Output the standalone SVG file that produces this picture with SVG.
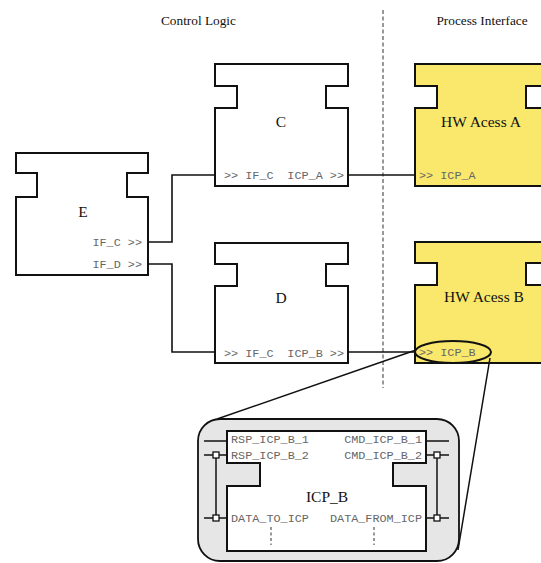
<svg xmlns="http://www.w3.org/2000/svg" width="541" height="563" viewBox="0 0 541 563">
<style>
.blk{fill:#fff;stroke:#111;stroke-width:2}
.hw{fill:#f9e86c;stroke:#111;stroke-width:2}
.ser{font-family:"Liberation Serif","Times New Roman",serif;fill:#111}
.title{font-size:13.3px;text-anchor:middle}
.name{font-size:15.5px;text-anchor:middle}
.mono{font-family:"Liberation Mono","Courier New",monospace;font-size:11.8px;fill:#666}
.end{text-anchor:end}
.con{fill:none;stroke:#111;stroke-width:1.6}
.sq{fill:#fff;stroke:#111;stroke-width:1.3}
</style>
<rect width="541" height="563" fill="#fff"/>
<g id="titles">
<text class="ser title" x="198.5" y="25">Control Logic</text>
<text class="ser title" x="482" y="25">Process Interface</text>
<line x1="383" y1="10" x2="383" y2="388" stroke="#333" stroke-width="1" stroke-dasharray="4,2.5"/>
</g>
<g id="connectors">
<polyline class="con" points="148,242 172,242 172,175 215,175"/>
<polyline class="con" points="148,264 172,264 172,352 215,352"/>
<line class="con" x1="348" y1="175" x2="415" y2="175"/>
<line class="con" x1="348" y1="352" x2="415" y2="352"/>
</g>
<g id="E">
<path class="blk" d="M16,153 H148 V173 H127 V197 H148 V275 H16 V197 H37 V173 H16 Z"/>
<text class="ser name" x="83" y="217">E</text>
<text class="mono end" x="142" y="246">IF_C &gt;&gt;</text>
<text class="mono end" x="142" y="268">IF_D &gt;&gt;</text>
</g>
<g id="C">
<path class="blk" d="M215,64 H348 V86 H326 V108 H348 V186 H215 V108 H237 V86 H215 Z"/>
<text class="ser name" x="281" y="127">C</text>
<text class="mono" x="224" y="179">&gt;&gt; IF_C</text>
<text class="mono end" x="344" y="179">ICP_A &gt;&gt;</text>
</g>
<g id="D">
<path class="blk" d="M215,243 H348 V264 H326 V286 H348 V363 H215 V286 H237 V264 H215 Z"/>
<text class="ser name" x="281" y="303">D</text>
<text class="mono" x="224" y="357">&gt;&gt; IF_C</text>
<text class="mono end" x="344" y="357">ICP_B &gt;&gt;</text>
</g>
<g id="HWA">
<path class="hw" d="M415,64 H548 V86 H526 V108 H548 V186 H415 V108 H437 V86 H415 Z"/>
<text class="ser name" x="481" y="127">HW Acess A</text>
<text class="mono" x="419" y="179">&gt;&gt; ICP_A</text>
</g>
<g id="HWB">
<path class="hw" d="M415,242 H548 V263 H526 V285 H548 V363 H415 V285 H437 V263 H415 Z"/>
<text class="ser name" x="484" y="302">HW Acess B</text>
<text class="mono" x="419" y="356">&gt;&gt; ICP_B</text>
<ellipse cx="453" cy="352" rx="38" ry="11" fill="none" stroke="#111" stroke-width="2"/>
</g>
<g id="zoom-lines">
<line x1="416" y1="350" x2="217" y2="419" stroke="#111" stroke-width="1.5"/>
<line x1="490" y1="358" x2="458" y2="550" stroke="#111" stroke-width="1.5"/>
</g>
<g id="ICP_B_detail">
<rect x="198" y="419" width="261" height="142" rx="22" ry="22" fill="#e6e6e6" stroke="#111" stroke-width="1.8"/>
<path class="blk" d="M227,431 H426 V463 H393 V486 H426 V551 H227 V486 H260 V463 H227 Z"/>
<g stroke="#111" stroke-width="1.5" fill="none">
<line x1="204" y1="441" x2="227" y2="441"/>
<line x1="204" y1="455" x2="227" y2="455"/>
<line x1="204" y1="518" x2="227" y2="518"/>
<line x1="216" y1="455" x2="216" y2="518"/>
<line x1="426" y1="441" x2="449" y2="441"/>
<line x1="426" y1="455" x2="449" y2="455"/>
<line x1="426" y1="518" x2="449" y2="518"/>
<line x1="437" y1="455" x2="437" y2="518"/>
</g>
<rect class="sq" x="213" y="452" width="6" height="6"/>
<rect class="sq" x="213" y="515" width="6" height="6"/>
<rect class="sq" x="434" y="452" width="6" height="6"/>
<rect class="sq" x="434" y="515" width="6" height="6"/>
<text class="mono" x="231" y="443">RSP_ICP_B_1</text>
<text class="mono" x="231" y="459">RSP_ICP_B_2</text>
<text class="mono end" x="422" y="443">CMD_ICP_B_1</text>
<text class="mono end" x="422" y="459">CMD_ICP_B_2</text>
<text class="ser name" x="327" y="502">ICP_B</text>
<text class="mono" x="231" y="522">DATA_TO_ICP</text>
<text class="mono end" x="422" y="522">DATA_FROM_ICP</text>
<g stroke="#333" stroke-width="1" stroke-dasharray="3,2.5">
<line x1="271" y1="527" x2="271" y2="545"/>
<line x1="374" y1="527" x2="374" y2="545"/>
</g>
</g>
</svg>
